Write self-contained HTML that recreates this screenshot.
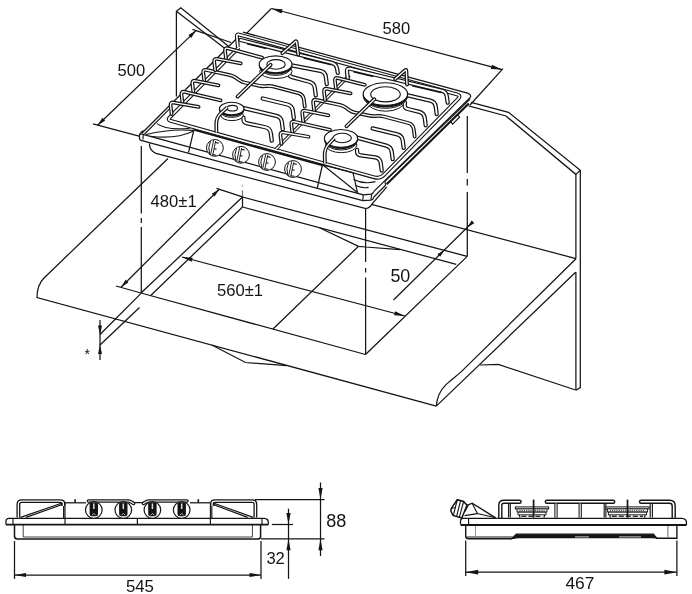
<!DOCTYPE html>
<html lang="en">
<head>
<meta charset="utf-8">
<title>Built-in gas hob installation dimensions</title>
<style>
html,body{margin:0;padding:0;background:#fff;}
body{width:692px;height:594px;overflow:hidden;}
svg{display:block;will-change:transform;}
svg text{font-family:"Liberation Sans",Arial,Helvetica,sans-serif;fill:#141414;}

</style>
</head>
<body>
<svg width="692" height="594" viewBox="0 0 692 594">
<rect x="0" y="0" width="692" height="594" fill="#ffffff"/>
<g id="worktop">
<path d="M168,158.5 L44,278 C40,282 37,288.5 37,297.5 L436.3,406.1" stroke="#141414" stroke-width="1.25" fill="none" />
<path d="M436.3,406.1 C437,396 440,390.5 446,384.6 C452,379 458,374.8 462.6,370.4 L576,258.8" stroke="#141414" stroke-width="1.25" fill="none" />
<line x1="436.3" y1="406.1" x2="575.6" y2="272.3" stroke="#141414" stroke-width="1.25" />
<line x1="371.5" y1="204.4" x2="576" y2="258.6" stroke="#141414" stroke-width="1.25" />
<path d="M211.8,345 L245.5,362.5 L280.5,365.2 L286,365.6" stroke="#141414" stroke-width="1.25" fill="none" />
<path d="M479.8,365 L498.5,364.5 L575.6,390" stroke="#141414" stroke-width="1.25" fill="none" />
</g>
<g id="wall">
<path d="M471,102.3 L508.5,112.3 L580.3,170.3 L580.3,387.6 L576,390.2" stroke="#141414" stroke-width="1.25" fill="none" />
<path d="M468.5,105.8 L506,116 L575.9,174.4 L575.9,258.6" stroke="#141414" stroke-width="1.25" fill="none" />
<line x1="575.9" y1="272" x2="575.9" y2="390.2" stroke="#141414" stroke-width="1.25" />
<line x1="575.9" y1="174.4" x2="580.3" y2="170.3" stroke="#141414" stroke-width="1.25" />
<path d="M176.4,96.5 L176.4,11.3 L180.8,7.8 L228.5,46.2" stroke="#141414" stroke-width="1.25" fill="none" />
<line x1="176.4" y1="11.3" x2="224" y2="47.8" stroke="#141414" stroke-width="1.25" />
</g>
<g id="cutout">
<line x1="242.5" y1="197" x2="242.5" y2="207" stroke="#141414" stroke-width="1.25" />
<line x1="242.5" y1="190.3" x2="242.5" y2="197" stroke="#777" stroke-width="1.25" />
<line x1="242.5" y1="185.2" x2="242.5" y2="186.6" stroke="#999" stroke-width="1.25" />
<line x1="242.5" y1="197" x2="467.2" y2="256.4" stroke="#141414" stroke-width="1.25" />
<line x1="242.5" y1="207" x2="456.3" y2="264.4" stroke="#141414" stroke-width="1.25" />
<line x1="242.5" y1="197" x2="141" y2="293" stroke="#141414" stroke-width="1.25" />
<line x1="242.5" y1="207" x2="151" y2="295.3" stroke="#141414" stroke-width="1.25" />
<line x1="141" y1="293" x2="365.5" y2="354.5" stroke="#141414" stroke-width="1.25" />
<line x1="365.5" y1="354.5" x2="467.2" y2="256.4" stroke="#141414" stroke-width="1.25" />
<path d="M319.5,227.7 L358.5,246.3 L365.5,247 L400,249.6" stroke="#141414" stroke-width="1.25" fill="none" />
<line x1="358.5" y1="246.3" x2="273" y2="329" stroke="#141414" stroke-width="1.25" />
</g>
<g id="centrelines">
<line x1="141.3" y1="146" x2="141.3" y2="213.5" stroke="#141414" stroke-width="1.25" />
<line x1="141.3" y1="218" x2="141.3" y2="223" stroke="#141414" stroke-width="1.25" />
<line x1="141.3" y1="227" x2="141.3" y2="293" stroke="#141414" stroke-width="1.25" />
<line x1="365.6" y1="209" x2="365.6" y2="262" stroke="#141414" stroke-width="1.25" />
<line x1="365.6" y1="268" x2="365.6" y2="272.5" stroke="#141414" stroke-width="1.25" />
<line x1="365.6" y1="277.5" x2="365.6" y2="354.5" stroke="#141414" stroke-width="1.25" />
<line x1="467.3" y1="116" x2="467.3" y2="173" stroke="#141414" stroke-width="1.25" />
<line x1="467.3" y1="179" x2="467.3" y2="185.5" stroke="#141414" stroke-width="1.25" />
<line x1="467.3" y1="192" x2="467.3" y2="256.4" stroke="#141414" stroke-width="1.25" />
</g>
<g id="dimensions">
<line x1="97.6" y1="125.2" x2="196" y2="30.6" stroke="#141414" stroke-width="1.25" />
<polygon points="97.6,125.2 102.34,117.87 105.11,120.75" fill="#141414"/>
<polygon points="196,30.6 191.26,37.93 188.49,35.05" fill="#141414"/>
<line x1="93" y1="123.8" x2="140" y2="136.3" stroke="#141414" stroke-width="1.25" />
<line x1="192.5" y1="29.3" x2="231" y2="42.5" stroke="#141414" stroke-width="1.25" />
<line x1="271.4" y1="8.5" x2="502" y2="69.6" stroke="#141414" stroke-width="1.25" />
<polygon points="271.4,8.5 282.6,9.19 281.47,13.44" fill="#141414"/>
<polygon points="502,69.6 490.8,68.91 491.93,64.66" fill="#141414"/>
<line x1="271.4" y1="8.5" x2="245.3" y2="34.6" stroke="#141414" stroke-width="1.25" />
<line x1="503" y1="68.6" x2="470" y2="105" stroke="#141414" stroke-width="1.25" />
<line x1="121" y1="287.2" x2="219.2" y2="189.2" stroke="#141414" stroke-width="1.25" />
<polygon points="121,287.2 125.6,279.78 128.42,282.6" fill="#141414"/>
<polygon points="219.2,189.2 214.6,196.62 211.78,193.8" fill="#141414"/>
<line x1="216.5" y1="188.3" x2="242.5" y2="196.8" stroke="#141414" stroke-width="1.25" />
<line x1="116" y1="286" x2="141" y2="293" stroke="#141414" stroke-width="1.25" />
<line x1="182" y1="257" x2="404.8" y2="316" stroke="#141414" stroke-width="1.25" />
<polygon points="182,257 192.69,257.66 191.61,261.72" fill="#141414"/>
<polygon points="404.8,316 394.11,315.34 395.19,311.28" fill="#141414"/>
<line x1="473" y1="221.8" x2="393.5" y2="300" stroke="#141414" stroke-width="1.25" />
<polygon points="467.6,227.2 471.61,220.58 474.28,223.29" fill="#141414"/>
<polygon points="444.2,250.2 440.19,256.82 437.52,254.11" fill="#141414"/>
<line x1="100" y1="320" x2="100" y2="360" stroke="#141414" stroke-width="1.25" />
<polygon points="100,334.5 98,325.5 102,325.5" fill="#141414"/>
<polygon points="100,345 102,354 98,354" fill="#141414"/>
<line x1="100" y1="334.5" x2="141" y2="293.4" stroke="#141414" stroke-width="1.25" />
<line x1="100" y1="345" x2="139.5" y2="307.5" stroke="#141414" stroke-width="1.25" />
</g>
<g id="labels">
<text x="117.6" y="76" font-size="16.6" >500</text>
<text x="382.6" y="34" font-size="16.6" >580</text>
<text x="150.6" y="207" font-size="16.6" >480±1</text>
<text x="217" y="295.6" font-size="16.6" >560±1</text>
<text x="390.4" y="281.5" font-size="17.9" >50</text>
<text x="84.5" y="358.5" font-size="14" >*</text>
</g>
<g id="hob">
<path d="M139.2,137 L139.4,135 L141.8,133.2 L234.6,40.6 L235.4,33 L240,31.6 L469.5,93.6 L471,97.5 L374,197.5 L372.6,203.3 L366,208.6 L156,153.3 L150.3,149.6 L149.4,144 L141,140.6 Z" stroke="none" stroke-width="0" fill="#fff" />
<path d="M149.5,143.6 Q149.3,150.8 156,153.3 L365.9,208.5 Q369.5,208.3 372.6,203.3 L386.8,186.9" stroke="#141414" stroke-width="1.25" fill="none" />
<line x1="143" y1="134.4" x2="363.3" y2="194.9" stroke="#141414" stroke-width="1.25" />
<line x1="141" y1="140.4" x2="362.7" y2="200.7" stroke="#141414" stroke-width="1.25" />
<path d="M143.4,130.6 Q139.3,133.4 139.4,136 L139.5,138.6 Q139.8,140.6 141.6,140.5" stroke="#141414" stroke-width="1.25" fill="none" />
<path d="M139.6,134.6 Q141,133.2 143.2,134.4 L143,139.4" stroke="#141414" stroke-width="1.125" fill="none" />
<line x1="141.8" y1="133.2" x2="236.2" y2="39" stroke="#141414" stroke-width="1.25" />
<line x1="144.6" y1="134" x2="170" y2="108.4" stroke="#141414" stroke-width="1.125" />
<path d="M363.3,194.9 L371,194.2 Q373.2,193.6 373.9,191.4" stroke="#141414" stroke-width="1.25" fill="none" />
<path d="M362.7,200.7 L370.8,200.1 Q373.2,199.6 374,196.8 L385.6,185.3" stroke="#141414" stroke-width="1.25" fill="none" />
<line x1="363.3" y1="194.9" x2="362.7" y2="200.7" stroke="#141414" stroke-width="1.125" />
<line x1="371.6" y1="194.3" x2="371" y2="200" stroke="#141414" stroke-width="1.125" />
<line x1="373.9" y1="191.4" x2="470.3" y2="97.5" stroke="#141414" stroke-width="1.25" />
<path d="M385.6,185.3 L384.9,180.8 M385.4,180.8 L469.9,99.3" stroke="#141414" stroke-width="1.125" fill="none" />
<line x1="386.6" y1="184.2" x2="468.8" y2="103.4" stroke="#141414" stroke-width="2.1" />
<path d="M450.6,121.6 L452.6,124.2 L459.6,117.2 L457.8,114.8" stroke="#141414" stroke-width="1.125" fill="none" />
<path d="M243,32.2 L467.6,93.2 Q471.6,94.6 470.3,97.5" stroke="#141414" stroke-width="1.25" fill="none" />
</g>
<g id="rim">
<path d="M237.9,47 L236.86,36.49 Q236.6,33.9 239.11,34.59 L456.96,94.41 Q461.3,95.6 458.16,98.82 L384.19,174.61 Q380,178.9 374.22,177.3 L170.67,120.84 Q167.3,119.9 169.76,117.41 L238.8,47.3" stroke="#141414" stroke-width="3.9" fill="none" stroke-linecap="butt" stroke-linejoin="round"/>
<path d="M237.9,47 L236.86,36.49 Q236.6,33.9 239.11,34.59 L456.96,94.41 Q461.3,95.6 458.16,98.82 L384.19,174.61 Q380,178.9 374.22,177.3 L170.67,120.84 Q167.3,119.9 169.76,117.41 L238.8,47.3" stroke="#fff" stroke-width="1.7" fill="none" stroke-linecap="butt" stroke-linejoin="round"/>
</g>
<g id="fascia">
<line x1="193.4" y1="129.7" x2="323.4" y2="165.7" stroke="#141414" stroke-width="1.9" />
<line x1="193.7" y1="130.6" x2="188.5" y2="152.7" stroke="#141414" stroke-width="1.25" />
<line x1="322.4" y1="165" x2="317.2" y2="188.4" stroke="#141414" stroke-width="1.25" />
<path d="M157,123.6 Q166,130.5 190,128.2" stroke="#141414" stroke-width="1.125" fill="none" />
<path d="M146.2,134.5 Q170,128.5 193.6,130.4" stroke="#141414" stroke-width="1.125" fill="none" />
<path d="M150,136.2 Q176,139.5 193,131.2" stroke="#141414" stroke-width="1.125" fill="none" />
<path d="M323,165 L358,193 M323,165 L353,172.8 L357.5,192.3" stroke="#141414" stroke-width="1.125" fill="none" />
<path d="M353.5,179.4 Q364,184.6 375.4,181.6" stroke="#141414" stroke-width="1.125" fill="none" />
<path d="M355.3,185.6 Q363,188.6 368.6,187.4" stroke="#141414" stroke-width="1.125" fill="none" />
<circle cx="214.9" cy="147.9" r="8.4" fill="#fff" stroke="#141414" stroke-width="1"/>
<path d="M210.5,141.2 Q207.5,147.7 209.7,154.2" stroke="#141414" stroke-width="1.0" fill="none" />
<line x1="213.6" y1="140.2" x2="210.5" y2="155.2" stroke="#141414" stroke-width="0.9375" />
<line x1="215.6" y1="141.1" x2="212.7" y2="155.4" stroke="#141414" stroke-width="0.9375" />
<line x1="215.2" y1="142.5" x2="218.7" y2="143.1" stroke="#141414" stroke-width="1.125" />
<line x1="213.9" y1="148.7" x2="216.5" y2="149.1" stroke="#141414" stroke-width="1.125" />
<line x1="212.3" y1="154.6" x2="216.2" y2="155.2" stroke="#141414" stroke-width="1.125" />
<circle cx="241" cy="154.8" r="8.4" fill="#fff" stroke="#141414" stroke-width="1"/>
<path d="M236.6,148.1 Q233.6,154.6 235.8,161.1" stroke="#141414" stroke-width="1.0" fill="none" />
<line x1="239.7" y1="147.1" x2="236.6" y2="162.1" stroke="#141414" stroke-width="0.9375" />
<line x1="241.7" y1="148" x2="238.8" y2="162.3" stroke="#141414" stroke-width="0.9375" />
<line x1="241.3" y1="149.4" x2="244.8" y2="150" stroke="#141414" stroke-width="1.125" />
<line x1="240" y1="155.6" x2="242.6" y2="156" stroke="#141414" stroke-width="1.125" />
<line x1="238.4" y1="161.5" x2="242.3" y2="162.1" stroke="#141414" stroke-width="1.125" />
<circle cx="267" cy="162" r="8.4" fill="#fff" stroke="#141414" stroke-width="1"/>
<path d="M262.6,155.3 Q259.6,161.8 261.8,168.3" stroke="#141414" stroke-width="1.0" fill="none" />
<line x1="265.7" y1="154.3" x2="262.6" y2="169.3" stroke="#141414" stroke-width="0.9375" />
<line x1="267.7" y1="155.2" x2="264.8" y2="169.5" stroke="#141414" stroke-width="0.9375" />
<line x1="267.3" y1="156.6" x2="270.8" y2="157.2" stroke="#141414" stroke-width="1.125" />
<line x1="266" y1="162.8" x2="268.6" y2="163.2" stroke="#141414" stroke-width="1.125" />
<line x1="264.4" y1="168.7" x2="268.3" y2="169.3" stroke="#141414" stroke-width="1.125" />
<circle cx="293" cy="169" r="8.4" fill="#fff" stroke="#141414" stroke-width="1"/>
<path d="M288.6,162.3 Q285.6,168.8 287.8,175.3" stroke="#141414" stroke-width="1.0" fill="none" />
<line x1="291.7" y1="161.3" x2="288.6" y2="176.3" stroke="#141414" stroke-width="0.9375" />
<line x1="293.7" y1="162.2" x2="290.8" y2="176.5" stroke="#141414" stroke-width="0.9375" />
<line x1="293.3" y1="163.6" x2="296.8" y2="164.2" stroke="#141414" stroke-width="1.125" />
<line x1="292" y1="169.8" x2="294.6" y2="170.2" stroke="#141414" stroke-width="1.125" />
<line x1="290.4" y1="175.7" x2="294.3" y2="176.3" stroke="#141414" stroke-width="1.125" />
</g>
<g id="pan-support-left">
<path d="M247.2,43.59 L266.34,48.37" stroke="#141414" stroke-width="2.0" fill="none"/>
<path d="M303.66,57.68 L331.41,64.61" stroke="#141414" stroke-width="2.0" fill="none"/>
<path d="M240.5,40.02 L331.83,62.81 Q336.2,63.9 337,68.33 L337.8,72.8" stroke="#141414" stroke-width="4.3" fill="none" stroke-linecap="round" stroke-linejoin="round"/>
<path d="M240.5,40.02 L331.83,62.81 Q336.2,63.9 337,68.33 L337.8,72.8" stroke="#fff" stroke-width="1.85" fill="none" stroke-linecap="round" stroke-linejoin="round"/>
<path d="M289,64.8 L320.29,70.85 Q325.2,71.8 325.84,76.76 L326.8,84.1" stroke="#141414" stroke-width="4.3" fill="none" stroke-linecap="round" stroke-linejoin="round"/>
<path d="M289,64.8 L320.29,70.85 Q325.2,71.8 325.84,76.76 L326.8,84.1" stroke="#fff" stroke-width="1.85" fill="none" stroke-linecap="round" stroke-linejoin="round"/>
<path d="M289.4,70.6 L289.1,73.4 Q288.8,76.2 292.18,77.12 L309.37,81.79 Q314.2,83.1 314.84,88.06 L315.8,95.4" stroke="#141414" stroke-width="4.3" fill="none" stroke-linecap="round" stroke-linejoin="round"/>
<path d="M289.4,70.6 L289.1,73.4 Q288.8,76.2 292.18,77.12 L309.37,81.79 Q314.2,83.1 314.84,88.06 L315.8,95.4" stroke="#fff" stroke-width="1.85" fill="none" stroke-linecap="round" stroke-linejoin="round"/>
<path d="M204.3,81.21 L203.25,72.78 Q202.8,69.21 206.32,69.97 L229.88,75.07 Q233.3,75.81 236.13,77.87 L238.97,79.95 Q241.8,82.01 245.22,82.74 L259.37,85.78 Q262.3,86.41 265.29,86.2 L267.81,86.02 Q270.8,85.81 273.7,86.58 L298.37,93.12 Q303.2,94.4 303.84,99.36 L304.8,106.7" stroke="#141414" stroke-width="3.8" fill="none" stroke-linecap="round" stroke-linejoin="round"/>
<path d="M204.3,81.21 L203.25,72.78 Q202.8,69.21 206.32,69.97 L229.88,75.07 Q233.3,75.81 236.13,77.87 L238.97,79.95 Q241.8,82.01 245.22,82.74 L259.37,85.78 Q262.3,86.41 265.29,86.2 L267.81,86.02 Q270.8,85.81 273.7,86.58 L298.37,93.12 Q303.2,94.4 303.84,99.36 L304.8,106.7" stroke="#fff" stroke-width="1.35" fill="none" stroke-linecap="round" stroke-linejoin="round"/>
<path d="M262.7,98.5 L287.34,104.51 Q292.2,105.7 292.84,110.66 L293.8,118" stroke="#141414" stroke-width="4.3" fill="none" stroke-linecap="round" stroke-linejoin="round"/>
<path d="M262.7,98.5 L287.34,104.51 Q292.2,105.7 292.84,110.66 L293.8,118" stroke="#fff" stroke-width="1.85" fill="none" stroke-linecap="round" stroke-linejoin="round"/>
<path d="M241.5,107.6 L276.33,115.85 Q281.2,117 281.84,121.96 L282.8,129.3" stroke="#141414" stroke-width="4.3" fill="none" stroke-linecap="round" stroke-linejoin="round"/>
<path d="M241.5,107.6 L276.33,115.85 Q281.2,117 281.84,121.96 L282.8,129.3" stroke="#fff" stroke-width="1.85" fill="none" stroke-linecap="round" stroke-linejoin="round"/>
<path d="M243.4,117.6 L243.55,120.1 Q243.7,122.6 247.12,123.34 L265.31,127.25 Q270.2,128.3 270.84,133.26 L271.8,140.6" stroke="#141414" stroke-width="4.3" fill="none" stroke-linecap="round" stroke-linejoin="round"/>
<path d="M243.4,117.6 L243.55,120.1 Q243.7,122.6 247.12,123.34 L265.31,127.25 Q270.2,128.3 270.84,133.26 L271.8,140.6" stroke="#fff" stroke-width="1.85" fill="none" stroke-linecap="round" stroke-linejoin="round"/>
<ellipse cx="275.9" cy="71.3" rx="16.2" ry="7.22" fill="#fff" stroke="#141414" stroke-width="1"/>
<ellipse cx="275.6" cy="67" rx="15.8" ry="8.4" fill="#fff" stroke="#141414" stroke-width="1"/>
<ellipse cx="275.6" cy="65.7" rx="16.4" ry="8.4" fill="#141414" stroke="#141414" stroke-width="1"/>
<ellipse cx="275.6" cy="64.3" rx="16.4" ry="8.4" fill="#fff" stroke="#141414" stroke-width="1.1"/>
<ellipse cx="276" cy="64.4" rx="9.2" ry="4.8" fill="#fff" stroke="#141414" stroke-width="1.1"/>
<ellipse cx="232" cy="115.2" rx="11.3" ry="5.42" fill="#fff" stroke="#141414" stroke-width="1"/>
<ellipse cx="231.7" cy="111.1" rx="11.7" ry="6.3" fill="#fff" stroke="#141414" stroke-width="1"/>
<ellipse cx="231.7" cy="109.8" rx="12.3" ry="6.3" fill="#141414" stroke="#141414" stroke-width="1"/>
<ellipse cx="231.7" cy="108.6" rx="12.3" ry="6.3" fill="#fff" stroke="#141414" stroke-width="1.1"/>
<ellipse cx="232.3" cy="108.2" rx="5.2" ry="2.8" fill="#fff" stroke="#141414" stroke-width="1.1"/>
<path d="M226.1,59.35 L225.05,50.92 Q224.6,47.35 228.07,48.31 L262,57.7" stroke="#141414" stroke-width="3.8" fill="none" stroke-linecap="round" stroke-linejoin="round"/>
<path d="M226.1,59.35 L225.05,50.92 Q224.6,47.35 228.07,48.31 L262,57.7" stroke="#fff" stroke-width="1.35" fill="none" stroke-linecap="round" stroke-linejoin="round"/>
<path d="M215.2,70.28 L214.15,61.85 Q213.7,58.28 217.24,58.95 L240.7,63.41" stroke="#141414" stroke-width="3.8" fill="none" stroke-linecap="round" stroke-linejoin="round"/>
<path d="M215.2,70.28 L214.15,61.85 Q213.7,58.28 217.24,58.95 L240.7,63.41" stroke="#fff" stroke-width="1.35" fill="none" stroke-linecap="round" stroke-linejoin="round"/>
<path d="M193.4,92.14 L192.35,83.71 Q191.9,80.14 195.43,80.85 L218.4,85.44" stroke="#141414" stroke-width="3.8" fill="none" stroke-linecap="round" stroke-linejoin="round"/>
<path d="M193.4,92.14 L192.35,83.71 Q191.9,80.14 195.43,80.85 L218.4,85.44" stroke="#fff" stroke-width="1.35" fill="none" stroke-linecap="round" stroke-linejoin="round"/>
<path d="M182.5,103.07 L181.45,94.64 Q181,91.07 184.51,91.89 L220.6,100.3" stroke="#141414" stroke-width="3.8" fill="none" stroke-linecap="round" stroke-linejoin="round"/>
<path d="M182.5,103.07 L181.45,94.64 Q181,91.07 184.51,91.89 L220.6,100.3" stroke="#fff" stroke-width="1.35" fill="none" stroke-linecap="round" stroke-linejoin="round"/>
<path d="M171.6,114 L170.55,105.57 Q170.1,102 173.65,102.6 L198.6,106.84" stroke="#141414" stroke-width="3.8" fill="none" stroke-linecap="round" stroke-linejoin="round"/>
<path d="M171.6,114 L170.55,105.57 Q170.1,102 173.65,102.6 L198.6,106.84" stroke="#fff" stroke-width="1.35" fill="none" stroke-linecap="round" stroke-linejoin="round"/>
<path d="M270.6,64.8 L237.6,96.6" stroke="#141414" stroke-width="3.8" fill="none" stroke-linecap="round" stroke-linejoin="round"/>
<path d="M270.6,64.8 L237.6,96.6" stroke="#fff" stroke-width="1.35" fill="none" stroke-linecap="round" stroke-linejoin="round"/>
<path d="M227.3,107.3 L220.99,113.1 Q216.2,117.5 216.29,124 L216.4,132.5" stroke="#141414" stroke-width="3.8" fill="none" stroke-linecap="butt" stroke-linejoin="round"/>
<path d="M227.3,107.3 L220.99,113.1 Q216.2,117.5 216.29,124 L216.4,132.5" stroke="#fff" stroke-width="1.35" fill="none" stroke-linecap="butt" stroke-linejoin="round"/>
<path d="M282.3,53.2 L295.21,41.67 Q296.4,40.6 296.6,42.19 L298.2,54.6" stroke="#141414" stroke-width="3.8" fill="none" stroke-linecap="round" stroke-linejoin="round"/>
<path d="M282.3,53.2 L295.21,41.67 Q296.4,40.6 296.6,42.19 L298.2,54.6" stroke="#fff" stroke-width="1.35" fill="none" stroke-linecap="round" stroke-linejoin="round"/>
</g>
<path d="M276.2,148.9 L349.4,75.2" stroke="#141414" stroke-width="3.4" fill="none" stroke-linecap="butt" stroke-linejoin="round"/>
<path d="M276.2,148.9 L349.4,75.2" stroke="#fff" stroke-width="1.4" fill="none" stroke-linecap="butt" stroke-linejoin="round"/>
<g id="pan-support-right">
<path d="M353.56,71.48 L373.46,76.21" stroke="#141414" stroke-width="2.0" fill="none"/>
<path d="M412.27,85.45 L441.12,92.32" stroke="#141414" stroke-width="2.0" fill="none"/>
<path d="M347.8,78.92 L346.99,71.5 Q346.6,67.92 350.1,68.75 L441.72,90.56 Q446.1,91.6 446.74,96.05 L447.7,102.7" stroke="#141414" stroke-width="4.3" fill="none" stroke-linecap="round" stroke-linejoin="round"/>
<path d="M347.8,78.92 L346.99,71.5 Q346.6,67.92 350.1,68.75 L441.72,90.56 Q446.1,91.6 446.74,96.05 L447.7,102.7" stroke="#fff" stroke-width="1.85" fill="none" stroke-linecap="round" stroke-linejoin="round"/>
<path d="M404.6,94.6 L430.23,100.57 Q435.1,101.7 435.74,106.66 L436.7,114" stroke="#141414" stroke-width="4.3" fill="none" stroke-linecap="round" stroke-linejoin="round"/>
<path d="M404.6,94.6 L430.23,100.57 Q435.1,101.7 435.74,106.66 L436.7,114" stroke="#fff" stroke-width="1.85" fill="none" stroke-linecap="round" stroke-linejoin="round"/>
<path d="M405,102.57 L404.7,105.37 Q404.4,108.17 407.8,109.01 L419.24,111.81 Q424.1,113 424.74,117.96 L425.7,125.3" stroke="#141414" stroke-width="4.3" fill="none" stroke-linecap="round" stroke-linejoin="round"/>
<path d="M405,102.57 L404.7,105.37 Q404.4,108.17 407.8,109.01 L419.24,111.81 Q424.1,113 424.74,117.96 L425.7,125.3" stroke="#fff" stroke-width="1.85" fill="none" stroke-linecap="round" stroke-linejoin="round"/>
<path d="M314.2,111.11 L313.15,102.68 Q312.7,99.11 316.22,99.87 L339.78,104.97 Q343.2,105.71 346.03,107.77 L348.87,109.85 Q351.7,111.91 355.12,112.64 L369.27,115.68 Q372.2,116.31 375.19,116.1 L377.71,115.92 Q380.7,115.71 383.6,116.48 L408.27,123.02 Q413.1,124.3 413.74,129.26 L414.7,136.6" stroke="#141414" stroke-width="3.8" fill="none" stroke-linecap="round" stroke-linejoin="round"/>
<path d="M314.2,111.11 L313.15,102.68 Q312.7,99.11 316.22,99.87 L339.78,104.97 Q343.2,105.71 346.03,107.77 L348.87,109.85 Q351.7,111.91 355.12,112.64 L369.27,115.68 Q372.2,116.31 375.19,116.1 L377.71,115.92 Q380.7,115.71 383.6,116.48 L408.27,123.02 Q413.1,124.3 413.74,129.26 L414.7,136.6" stroke="#fff" stroke-width="1.35" fill="none" stroke-linecap="round" stroke-linejoin="round"/>
<path d="M372.6,128.4 L397.24,134.41 Q402.1,135.6 402.74,140.56 L403.7,147.9" stroke="#141414" stroke-width="4.3" fill="none" stroke-linecap="round" stroke-linejoin="round"/>
<path d="M372.6,128.4 L397.24,134.41 Q402.1,135.6 402.74,140.56 L403.7,147.9" stroke="#fff" stroke-width="1.85" fill="none" stroke-linecap="round" stroke-linejoin="round"/>
<path d="M355.1,137.2 L386.27,145.6 Q391.1,146.9 391.74,151.86 L392.7,159.2" stroke="#141414" stroke-width="4.3" fill="none" stroke-linecap="round" stroke-linejoin="round"/>
<path d="M355.1,137.2 L386.27,145.6 Q391.1,146.9 391.74,151.86 L392.7,159.2" stroke="#fff" stroke-width="1.85" fill="none" stroke-linecap="round" stroke-linejoin="round"/>
<path d="M357,149.8 L357.15,152.3 Q357.3,154.8 360.76,155.32 L375.15,157.46 Q380.1,158.2 380.74,163.16 L381.7,170.5" stroke="#141414" stroke-width="4.3" fill="none" stroke-linecap="round" stroke-linejoin="round"/>
<path d="M357,149.8 L357.15,152.3 Q357.3,154.8 360.76,155.32 L375.15,157.46 Q380.1,158.2 380.74,163.16 L381.7,170.5" stroke="#fff" stroke-width="1.85" fill="none" stroke-linecap="round" stroke-linejoin="round"/>
<ellipse cx="385.7" cy="101.5" rx="18.6" ry="9.72" fill="#fff" stroke="#141414" stroke-width="1"/>
<ellipse cx="385.4" cy="97" rx="21.6" ry="11.3" fill="#fff" stroke="#141414" stroke-width="1"/>
<ellipse cx="385.4" cy="95.7" rx="22.2" ry="11.3" fill="#141414" stroke="#141414" stroke-width="1"/>
<ellipse cx="385.4" cy="94.1" rx="22.2" ry="11.3" fill="#fff" stroke="#141414" stroke-width="1.1"/>
<ellipse cx="385.5" cy="94.3" rx="14.8" ry="7.6" fill="#fff" stroke="#141414" stroke-width="1.1"/>
<ellipse cx="341.3" cy="145" rx="15.6" ry="7.65" fill="#fff" stroke="#141414" stroke-width="1"/>
<ellipse cx="341" cy="141.1" rx="16" ry="8.9" fill="#fff" stroke="#141414" stroke-width="1"/>
<ellipse cx="341" cy="139.8" rx="16.6" ry="8.9" fill="#141414" stroke="#141414" stroke-width="1"/>
<ellipse cx="341" cy="138.4" rx="16.6" ry="8.9" fill="#fff" stroke="#141414" stroke-width="1.1"/>
<ellipse cx="342.2" cy="138" rx="9.2" ry="4.7" fill="#fff" stroke="#141414" stroke-width="1.1"/>
<path d="M336,89.25 L334.95,80.82 Q334.5,77.25 337.99,78.12 L364.8,84.8" stroke="#141414" stroke-width="3.8" fill="none" stroke-linecap="round" stroke-linejoin="round"/>
<path d="M336,89.25 L334.95,80.82 Q334.5,77.25 337.99,78.12 L364.8,84.8" stroke="#fff" stroke-width="1.35" fill="none" stroke-linecap="round" stroke-linejoin="round"/>
<path d="M325.1,100.18 L324.05,91.75 Q323.6,88.18 327.14,88.85 L350.6,93.31" stroke="#141414" stroke-width="3.8" fill="none" stroke-linecap="round" stroke-linejoin="round"/>
<path d="M325.1,100.18 L324.05,91.75 Q323.6,88.18 327.14,88.85 L350.6,93.31" stroke="#fff" stroke-width="1.35" fill="none" stroke-linecap="round" stroke-linejoin="round"/>
<path d="M303.3,122.04 L302.25,113.61 Q301.8,110.04 305.33,110.75 L328.3,115.34" stroke="#141414" stroke-width="3.8" fill="none" stroke-linecap="round" stroke-linejoin="round"/>
<path d="M303.3,122.04 L302.25,113.61 Q301.8,110.04 305.33,110.75 L328.3,115.34" stroke="#fff" stroke-width="1.35" fill="none" stroke-linecap="round" stroke-linejoin="round"/>
<path d="M292.4,132.97 L291.35,124.54 Q290.9,120.97 294.41,121.77 L330,129.9" stroke="#141414" stroke-width="3.8" fill="none" stroke-linecap="round" stroke-linejoin="round"/>
<path d="M292.4,132.97 L291.35,124.54 Q290.9,120.97 294.41,121.77 L330,129.9" stroke="#fff" stroke-width="1.35" fill="none" stroke-linecap="round" stroke-linejoin="round"/>
<path d="M281.5,143.9 L280.45,135.47 Q280,131.9 283.55,132.5 L308.5,136.75" stroke="#141414" stroke-width="3.8" fill="none" stroke-linecap="round" stroke-linejoin="round"/>
<path d="M281.5,143.9 L280.45,135.47 Q280,131.9 283.55,132.5 L308.5,136.75" stroke="#fff" stroke-width="1.35" fill="none" stroke-linecap="round" stroke-linejoin="round"/>
<path d="M374.4,99.2 L346.4,126.3" stroke="#141414" stroke-width="3.8" fill="none" stroke-linecap="round" stroke-linejoin="round"/>
<path d="M374.4,99.2 L346.4,126.3" stroke="#fff" stroke-width="1.35" fill="none" stroke-linecap="round" stroke-linejoin="round"/>
<path d="M334.3,138 L329.01,143.73 Q324.6,148.5 324.73,155 L324.9,163.5" stroke="#141414" stroke-width="3.8" fill="none" stroke-linecap="butt" stroke-linejoin="round"/>
<path d="M334.3,138 L329.01,143.73 Q324.6,148.5 324.73,155 L324.9,163.5" stroke="#fff" stroke-width="1.35" fill="none" stroke-linecap="butt" stroke-linejoin="round"/>
<path d="M395.2,79 L405.1,70.26 Q406.3,69.2 406.37,70.8 L407,84.6" stroke="#141414" stroke-width="3.8" fill="none" stroke-linecap="round" stroke-linejoin="round"/>
<path d="M395.2,79 L405.1,70.26 Q406.3,69.2 406.37,70.8 L407,84.6" stroke="#fff" stroke-width="1.35" fill="none" stroke-linecap="round" stroke-linejoin="round"/>
</g>
<g id="front-view">
<path d="M14.5,525 L14.5,536.4 Q14.6,538.9 17.5,539 L258,539 Q260.6,538.9 260.6,536.4 L260.6,525" stroke="#141414" stroke-width="1.5" fill="none" />
<path d="M23.2,525 L23.2,537 L252.4,537 L252.4,525" stroke="#444" stroke-width="1.0" fill="none" />
<line x1="5.8" y1="524.6" x2="268.4" y2="524.6" stroke="#141414" stroke-width="1.9" />
<path d="M65,518.4 L8.8,518.4 Q6.3,518.6 6,521 L5.9,524.6" stroke="#141414" stroke-width="1.25" fill="none" />
<line x1="13" y1="518.6" x2="13" y2="524.4" stroke="#141414" stroke-width="1.125" />
<path d="M210.4,518.4 L264.6,518.4 Q267.8,518.8 268.2,521.2 L268.3,524.6" stroke="#141414" stroke-width="1.25" fill="none" />
<line x1="262" y1="518.6" x2="262" y2="524.4" stroke="#141414" stroke-width="1.125" />
<line x1="65" y1="518.3" x2="210.4" y2="518.3" stroke="#141414" stroke-width="1.25" />
<line x1="137.4" y1="518.3" x2="137.4" y2="524.6" stroke="#141414" stroke-width="1.25" />
<path d="M65,524 L65,503 M63.6,503.6 L63.6,518" stroke="#141414" stroke-width="1.125" fill="none" />
<path d="M210.4,524 L210.4,503 M211.8,503.6 L211.8,518" stroke="#141414" stroke-width="1.125" fill="none" />
<line x1="65" y1="502.8" x2="86" y2="502.8" stroke="#141414" stroke-width="1.25" />
<line x1="190" y1="502.8" x2="210.4" y2="502.8" stroke="#141414" stroke-width="1.25" />
<line x1="132" y1="502.6" x2="146" y2="502.6" stroke="#141414" stroke-width="1.25" />
<line x1="75.1" y1="499.2" x2="75.1" y2="502.6" stroke="#141414" stroke-width="1.6" />
<line x1="198.3" y1="499.2" x2="198.3" y2="502.6" stroke="#141414" stroke-width="1.6" />
<path d="M18.4,517.6 L18.4,504.3 Q18.4,501.1 21.6,501.1 L60.2,501.1 Q63.4,501.1 63.4,503.55 L63.4,506" stroke="#141414" stroke-width="3.9" fill="none" stroke-linecap="butt" stroke-linejoin="round"/>
<path d="M18.4,517.6 L18.4,504.3 Q18.4,501.1 21.6,501.1 L60.2,501.1 Q63.4,501.1 63.4,503.55 L63.4,506" stroke="#fff" stroke-width="1.3" fill="none" stroke-linecap="butt" stroke-linejoin="round"/>
<path d="M20.6,517.4 L61.4,503.2 L61.4,504.8 L26,517.4" stroke="#141414" stroke-width="1.125" fill="none" />
<path d="M255.4,517.6 L255.4,504.3 Q255.4,501.1 252.2,501.1 L215.2,501.1 Q212,501.1 212,503.55 L212,506" stroke="#141414" stroke-width="3.9" fill="none" stroke-linecap="butt" stroke-linejoin="round"/>
<path d="M255.4,517.6 L255.4,504.3 Q255.4,501.1 252.2,501.1 L215.2,501.1 Q212,501.1 212,503.55 L212,506" stroke="#fff" stroke-width="1.3" fill="none" stroke-linecap="butt" stroke-linejoin="round"/>
<path d="M253.2,517.4 L214,503.2 L214,504.8 L247.6,517.4" stroke="#141414" stroke-width="1.125" fill="none" />
<path d="M88.4,501 L128,501 Q129.5,501 130.79,501.76 L133.6,503.4" stroke="#141414" stroke-width="3.6" fill="none" stroke-linecap="round" stroke-linejoin="round"/>
<path d="M88.4,501 L128,501 Q129.5,501 130.79,501.76 L133.6,503.4" stroke="#fff" stroke-width="1.1" fill="none" stroke-linecap="round" stroke-linejoin="round"/>
<path d="M187,501 L149.1,501 Q147.6,501 146.3,501.74 L143.4,503.4" stroke="#141414" stroke-width="3.6" fill="none" stroke-linecap="round" stroke-linejoin="round"/>
<path d="M187,501 L149.1,501 Q147.6,501 146.3,501.74 L143.4,503.4" stroke="#fff" stroke-width="1.1" fill="none" stroke-linecap="round" stroke-linejoin="round"/>
<circle cx="93.8" cy="510" r="8.3" fill="#fff" stroke="#141414" stroke-width="1.2"/>
<rect x="89.6" y="502.3" width="8.4" height="14" rx="2.2" fill="#141414"/>
<line x1="93.8" y1="503.6" x2="93.8" y2="509" stroke="#ddd" stroke-width="1.5" />
<path d="M92,515.2 L93.8,513.4 L95.6,515.2" stroke="#bbb" stroke-width="1.0" fill="none" />
<circle cx="123.3" cy="510" r="8.3" fill="#fff" stroke="#141414" stroke-width="1.2"/>
<rect x="119.1" y="502.3" width="8.4" height="14" rx="2.2" fill="#141414"/>
<line x1="123.3" y1="503.6" x2="123.3" y2="509" stroke="#ddd" stroke-width="1.5" />
<path d="M121.5,515.2 L123.3,513.4 L125.1,515.2" stroke="#bbb" stroke-width="1.0" fill="none" />
<circle cx="152.4" cy="510" r="8.3" fill="#fff" stroke="#141414" stroke-width="1.2"/>
<rect x="148.2" y="502.3" width="8.4" height="14" rx="2.2" fill="#141414"/>
<line x1="152.4" y1="503.6" x2="152.4" y2="509" stroke="#ddd" stroke-width="1.5" />
<path d="M150.6,515.2 L152.4,513.4 L154.2,515.2" stroke="#bbb" stroke-width="1.0" fill="none" />
<circle cx="181.7" cy="510" r="8.3" fill="#fff" stroke="#141414" stroke-width="1.2"/>
<rect x="177.5" y="502.3" width="8.4" height="14" rx="2.2" fill="#141414"/>
<line x1="181.7" y1="503.6" x2="181.7" y2="509" stroke="#ddd" stroke-width="1.5" />
<path d="M179.9,515.2 L181.7,513.4 L183.5,515.2" stroke="#bbb" stroke-width="1.0" fill="none" />
</g>
<g id="front-dims">
<line x1="14.5" y1="541" x2="14.5" y2="579" stroke="#141414" stroke-width="1.25" />
<line x1="261" y1="541" x2="261" y2="579" stroke="#141414" stroke-width="1.25" />
<line x1="14.5" y1="575" x2="261" y2="575" stroke="#141414" stroke-width="1.25" />
<polygon points="14.5,575 26,572.9 26,577.1" fill="#141414"/>
<polygon points="261,575 249.5,577.1 249.5,572.9" fill="#141414"/>
<line x1="320.5" y1="482.5" x2="320.5" y2="556" stroke="#141414" stroke-width="1.25" />
<polygon points="320.5,499.5 318.4,488 322.6,488" fill="#141414"/>
<polygon points="320.5,538.8 322.6,550.3 318.4,550.3" fill="#141414"/>
<line x1="255" y1="499.5" x2="324.5" y2="499.5" stroke="#141414" stroke-width="1.25" />
<line x1="261" y1="538.8" x2="324.5" y2="538.8" stroke="#141414" stroke-width="1.25" />
<line x1="288.5" y1="508.7" x2="288.5" y2="578.8" stroke="#141414" stroke-width="1.25" />
<polygon points="288.5,524.5 286.4,513 290.6,513" fill="#141414"/>
<polygon points="288.5,538.8 290.6,550.3 286.4,550.3" fill="#141414"/>
<line x1="271.8" y1="524.5" x2="293" y2="524.5" stroke="#141414" stroke-width="1.25" />
<text x="125.9" y="591.9" font-size="16.8" >545</text>
<text x="326.2" y="527.4" font-size="18" >88</text>
<text x="266.4" y="564" font-size="16.6" >32</text>
</g>
<g id="side-view">
<path d="M451.3,508.4 L457.3,499.7 L463.6,501.5 L467,505.2 L461.8,518 L453,515.4 L450.8,511 Z" stroke="#141414" stroke-width="1.5" fill="none" />
<path d="M457.3,499.7 L453.4,515.2 M460.6,500.6 L456.6,516.4 M463.6,501.5 L459.4,517.2" stroke="#141414" stroke-width="1.125" fill="none" />
<path d="M451.3,508.4 L455.6,507.6" stroke="#141414" stroke-width="1.0" fill="none" />
<path d="M467,505.4 L472.2,503.2 L495.6,517.8" stroke="#141414" stroke-width="1.375" fill="none" />
<path d="M472.2,503.2 L477.4,513.6 L495.6,517.8 M464.6,515.6 L477.4,513.6 M465,511.4 L468.4,505" stroke="#141414" stroke-width="1.125" fill="none" />
<path d="M465.7,525.6 L465.7,536.4 Q465.8,538.7 468.6,538.8 L511.6,538.8" stroke="#141414" stroke-width="1.375" fill="none" />
<line x1="466.6" y1="537" x2="512.6" y2="537" stroke="#141414" stroke-width="1.0" />
<line x1="475.5" y1="526" x2="475.5" y2="537" stroke="#888" stroke-width="0.875" />
<path d="M676.9,525.6 L676.9,538.2 L656,538.2" stroke="#141414" stroke-width="1.375" fill="none" />
<line x1="667.9" y1="525.6" x2="667.9" y2="537.6" stroke="#666" stroke-width="1.0" />
<path d="M511.6,538.6 L516.4,534.2 L653.4,534.2 L656.6,538 L652,537.6 L518,537.6 Z" stroke="#141414" stroke-width="1.25" fill="#141414" />
<line x1="575" y1="536.9" x2="589" y2="536.9" stroke="#ccc" stroke-width="1.0" />
<line x1="619" y1="536.9" x2="641" y2="536.9" stroke="#ccc" stroke-width="1.0" />
<path d="M500.3,520.6 L500.3,505.3 Q500.3,501.7 503.9,501.7 L519.6,501.7" stroke="#141414" stroke-width="4.4" fill="none" stroke-linecap="round" stroke-linejoin="round"/>
<path d="M500.3,520.6 L500.3,505.3 Q500.3,501.7 503.9,501.7 L519.6,501.7" stroke="#fff" stroke-width="1.6" fill="none" stroke-linecap="round" stroke-linejoin="round"/>
<path d="M508.6,503.8 L508.6,517.6 M510.3,503.8 L510.3,517.6" stroke="#141414" stroke-width="1.125" fill="none" />
<path d="M546.8,501.7 L613.2,501.7" stroke="#141414" stroke-width="4.4" fill="none" stroke-linecap="round" stroke-linejoin="round"/>
<path d="M546.8,501.7 L613.2,501.7" stroke="#fff" stroke-width="1.6" fill="none" stroke-linecap="round" stroke-linejoin="round"/>
<path d="M556,503.6 L556,517.6" stroke="#141414" stroke-width="3.3" fill="none" stroke-linecap="butt" stroke-linejoin="round"/>
<path d="M556,503.6 L556,517.6" stroke="#fff" stroke-width="1.2" fill="none" stroke-linecap="butt" stroke-linejoin="round"/>
<path d="M580.2,503.6 L580.2,517.6" stroke="#141414" stroke-width="3.3" fill="none" stroke-linecap="butt" stroke-linejoin="round"/>
<path d="M580.2,503.6 L580.2,517.6" stroke="#fff" stroke-width="1.2" fill="none" stroke-linecap="butt" stroke-linejoin="round"/>
<path d="M604.2,503.8 L604.2,517.6 M605.9,503.8 L605.9,517.6" stroke="#141414" stroke-width="1.125" fill="none" />
<path d="M641,501.7 L669.5,501.7 Q673.7,501.7 673.7,505.9 L673.7,520.6" stroke="#141414" stroke-width="4.4" fill="none" stroke-linecap="round" stroke-linejoin="round"/>
<path d="M641,501.7 L669.5,501.7 Q673.7,501.7 673.7,505.9 L673.7,520.6" stroke="#fff" stroke-width="1.6" fill="none" stroke-linecap="round" stroke-linejoin="round"/>
<path d="M650.2,503.8 L650.2,517.6 M652.4,503.8 L652.4,517.6" stroke="#141414" stroke-width="1.125" fill="none" />
<rect x="461" y="518.4" width="225" height="6" fill="#fff"/>
<line x1="460.6" y1="524.9" x2="686.6" y2="524.9" stroke="#141414" stroke-width="2.0" />
<path d="M497.4,518.4 L462.4,518.4 Q460.4,519 460.5,521.6 L460.6,524.6" stroke="#141414" stroke-width="1.25" fill="none" />
<line x1="468.6" y1="518.6" x2="468.6" y2="524.2" stroke="#141414" stroke-width="1.125" />
<path d="M497.4,518.3 L682,518.3 Q686,518.8 686.4,521.6 L686.5,524.8" stroke="#141414" stroke-width="1.25" fill="none" />
<rect x="515.4" y="506.9" width="33.2" height="2" fill="#fff" stroke="#141414" stroke-width="1"/>
<rect x="517" y="508.9" width="30" height="3" fill="#fff" stroke="#141414" stroke-width="0.9"/>
<line x1="519.4" y1="510.4" x2="544.6" y2="510.4" stroke="#555" stroke-width="1.5" stroke-dasharray="1.2 1"/>
<rect x="518" y="512.2" width="28" height="2.6" fill="#fff" stroke="#141414" stroke-width="0.9"/>
<path d="M519.4,514.8 L520,517.6 M544.6,514.8 L544,517.6" stroke="#141414" stroke-width="1.125" fill="none" />
<line x1="521.4" y1="516.3" x2="542.6" y2="516.3" stroke="#333" stroke-width="1.5" stroke-dasharray="5 2"/>
<line x1="533.6" y1="499.6" x2="533.6" y2="517.6" stroke="#141414" stroke-width="1.7" />
<rect x="605.8" y="506.9" width="43.4" height="2" fill="#fff" stroke="#141414" stroke-width="1"/>
<rect x="607.4" y="508.9" width="40.2" height="3" fill="#fff" stroke="#141414" stroke-width="0.9"/>
<line x1="609.8" y1="510.4" x2="645.2" y2="510.4" stroke="#555" stroke-width="1.5" stroke-dasharray="1.2 1"/>
<rect x="608.4" y="512.2" width="38.2" height="2.6" fill="#fff" stroke="#141414" stroke-width="0.9"/>
<path d="M609.8,514.8 L610.4,517.6 M645.2,514.8 L644.6,517.6" stroke="#141414" stroke-width="1.125" fill="none" />
<line x1="611.8" y1="516.3" x2="643.2" y2="516.3" stroke="#333" stroke-width="1.5" stroke-dasharray="5 2"/>
<line x1="627.5" y1="499.6" x2="627.5" y2="517.6" stroke="#141414" stroke-width="1.7" />
</g>
<g id="side-dims">
<line x1="465.7" y1="540.5" x2="465.7" y2="576" stroke="#141414" stroke-width="1.25" />
<line x1="676.9" y1="540.5" x2="676.9" y2="576" stroke="#141414" stroke-width="1.25" />
<line x1="465.7" y1="572.2" x2="676.9" y2="572.2" stroke="#141414" stroke-width="1.25" />
<polygon points="465.7,572.2 478.2,569.8 478.2,574.6" fill="#141414"/>
<polygon points="676.9,572.2 664.4,574.6 664.4,569.8" fill="#141414"/>
<text x="565.4" y="588.8" font-size="17.4" >467</text>
</g>
</svg>
</body>
</html>
